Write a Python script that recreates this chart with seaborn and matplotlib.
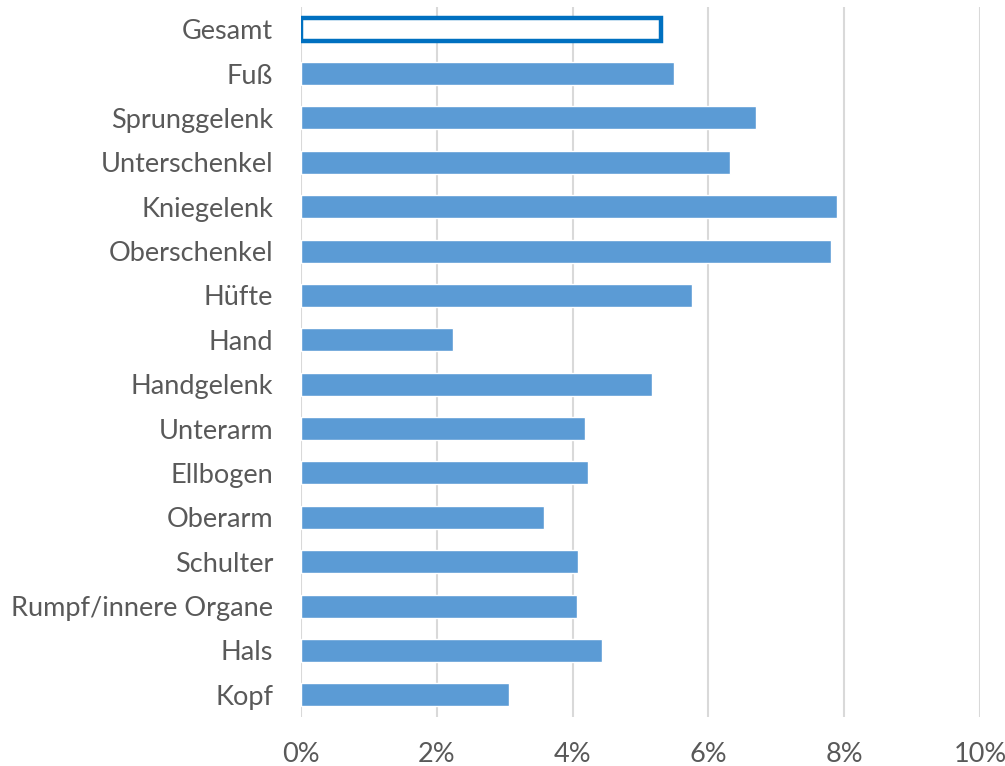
import matplotlib
matplotlib.use("Agg")
import matplotlib.pyplot as plt
import pandas as pd
import seaborn as sns
from matplotlib.ticker import FuncFormatter

# body regions, top to bottom as shown
regions = [
    "Gesamt", "Fuß", "Sprunggelenk", "Unterschenkel", "Kniegelenk",
    "Oberschenkel", "Hüfte", "Hand", "Handgelenk", "Unterarm",
    "Ellbogen", "Oberarm", "Schulter", "Rumpf/innere Organe", "Hals", "Kopf",
]
# share in percent
shares = [
    5.30, 5.49, 6.70, 6.32, 7.89,
    7.81, 5.76, 2.24, 5.17, 4.18,
    4.23, 3.58, 4.08, 4.06, 4.43, 3.06,
]

df = pd.DataFrame({"region": regions, "share": shares})

sns.set_style("white")
plt.rcParams["font.family"] = ["Lato", "DejaVu Sans"]

text_color = "#595959"
bar_color = "#5B9BD5"
total_color = "#0070C0"

fig = plt.figure(figsize=(10.05, 7.66), dpi=100)
ax = fig.add_axes([301 / 1005, 1 - 717 / 766, (980 - 301) / 1005, (717 - 7) / 766])

sns.barplot(data=df, x="share", y="region", orient="h", color=bar_color,
            width=0.52, saturation=1, ax=ax, zorder=2)

# the total bar is drawn as an outline only
total = ax.patches[0]
total.set_facecolor("white")
total.set_edgecolor(total_color)
total.set_linewidth(3.2)

ax.set_xlim(0, 10)
ax.set_xticks(range(0, 11, 2))
ax.xaxis.set_major_formatter(FuncFormatter(lambda v, _: f"{v:.0f}%"))
ax.grid(axis="x", color="#D9D9D9", linewidth=1.5, zorder=0)
ax.set_axisbelow(True)
for s in ax.spines.values():
    s.set_visible(False)

ax.set_xlabel("")
ax.set_ylabel("")
ax.tick_params(axis="both", length=0, labelsize=19.5, colors=text_color)
ax.tick_params(axis="y", pad=20)
ax.tick_params(axis="x", pad=18)

fig.savefig("out.png", dpi=100)
